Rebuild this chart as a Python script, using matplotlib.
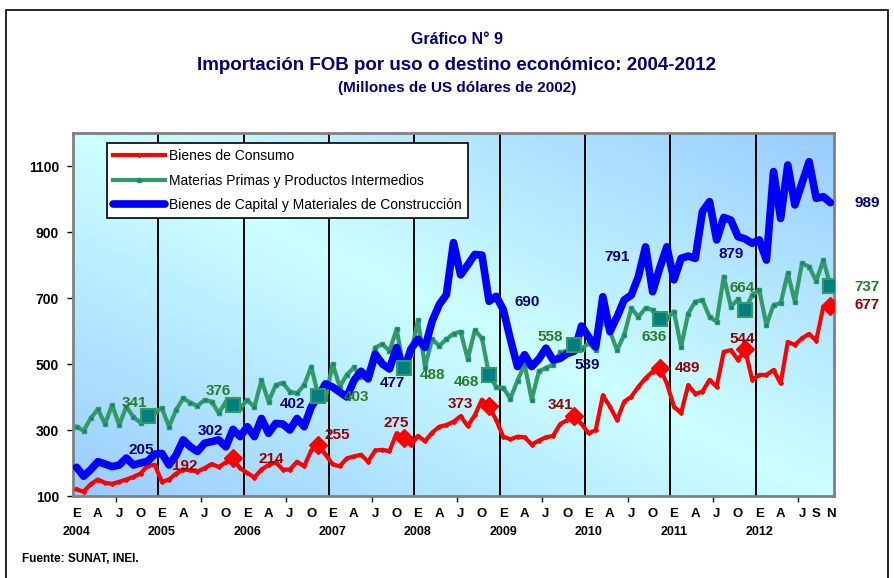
import numpy as np
import matplotlib.pyplot as plt
from matplotlib.lines import Line2D
from matplotlib.patches import Rectangle
from matplotlib.font_manager import FontProperties

NARROW = ['Liberation Sans Narrow', 'Liberation Sans', 'DejaVu Sans']
ARIAL = ['Liberation Sans', 'DejaVu Sans']

# Data: monthly values Jan 2004 - Nov 2012 (millones de US$ de 2002)
years = [2004, 2005, 2006, 2007, 2008, 2009, 2010, 2011, 2012]
month_initials = ['E', 'F', 'M', 'A', 'M', 'J', 'J', 'A', 'S', 'O', 'N', 'D']

consumo = [
    120, 113, 136, 150, 140, 137, 143, 150, 158, 168, 192, 194,   # 2004
    143, 150, 168, 180, 178, 174, 184, 197, 188, 202, 214, 184,   # 2005
    170, 156, 180, 194, 202, 180, 180, 204, 190, 238, 255, 226,   # 2006
    196, 190, 214, 220, 225, 204, 238, 240, 236, 290, 275, 255,   # 2007
    282, 266, 292, 310, 315, 325, 342, 312, 345, 392, 373, 330,   # 2008
    280, 272, 280, 278, 256, 268, 278, 282, 318, 330, 341, 318,   # 2009
    290, 300, 405, 371, 330, 386, 401, 431, 457, 477, 489, 441,   # 2010
    371, 351, 436, 410, 416, 452, 431, 537, 542, 512, 544, 452,   # 2011
    467, 467, 482, 441, 567, 558, 578, 591, 571, 674, 677,        # 2012
]

materias = [
    310, 298, 336, 363, 318, 376, 315, 371, 339, 322, 341, 355,
    366, 310, 361, 396, 383, 373, 391, 386, 351, 386, 376, 366,
    391, 369, 451, 386, 436, 443, 416, 411, 436, 492, 403, 395,
    500, 432, 467, 490, 460, 478, 550, 560, 540, 605, 488, 530,
    632, 492, 575, 555, 575, 592, 598, 515, 602, 578, 468, 430,
    428, 395, 450, 498, 392, 478, 488, 498, 535, 540, 558, 545,
    563, 542, 633, 598, 542, 588, 669, 643, 669, 664, 636, 638,
    659, 552, 653, 689, 694, 643, 628, 765, 674, 696, 664, 709,
    724, 618, 679, 684, 775, 689, 805, 795, 752, 815, 737,
]

capital = [
    187, 160, 180, 204, 197, 189, 194, 215, 194, 200, 205, 227,
    229, 194, 224, 270, 249, 235, 260, 265, 270, 249, 302, 280,
    310, 280, 335, 290, 320, 318, 300, 335, 310, 370, 402, 440,
    430, 415, 400, 450, 478, 455, 530, 500, 485, 550, 477, 545,
    575, 550, 630, 680, 710, 868, 770, 800, 832, 830, 690, 705,
    665, 575, 492, 528, 492, 515, 548, 512, 517, 532, 539, 615,
    582, 552, 704, 598, 643, 694, 709, 765, 855, 719, 791, 855,
    755, 820, 827, 820, 962, 992, 876, 944, 936, 886, 879, 866,
    876, 815, 1083, 941, 1103, 982, 1048, 1113, 1002, 1007, 989,
]

series_names = ['Bienes de Consumo',
                'Materias Primas y Productos Intermedios',
                'Bienes de Capital y Materiales de Construcción']

n = len(consumo)
x = np.arange(n)
nov_idx = [i for i in range(n) if i % 12 == 10]

fig = plt.figure(figsize=(8.94, 5.78), dpi=100)
ax = fig.add_axes([73 / 894, 1 - 496 / 578, 761 / 894, 363 / 578])

# gradient background (diagonal, light in the middle band)
gx, gy = np.meshgrid(np.linspace(0, 1, 300), np.linspace(0, 1, 300))
c = np.abs(gx + gy - 1)[..., None]
cyan = np.array([204, 255, 255]) / 255
blue = np.array([153, 204, 255]) / 255
ax.imshow(cyan * (1 - c) + blue * c, extent=(-0.5, n - 0.5, 100, 1200),
          origin='lower', aspect='auto', zorder=0)

# year separators
for k in range(1, len(years)):
    ax.axvline(12 * k - 0.5, color='black', lw=1.4, zorder=1)

ax.plot(x, consumo, color='#FF0000', lw=3, marker='D', ms=2, zorder=4)
ax.plot(x, materias, color='#339966', lw=3, marker='s', ms=2.5,
        mfc='#008080', mec='#339966', zorder=3)
ax.plot(x, capital, color='#0000FF', lw=5.5, solid_capstyle='round', zorder=5)

# highlighted november points
red_nov = [i for i in nov_idx if i >= 12]
ax.plot(red_nov, [consumo[i] for i in red_nov], ls='none', marker='D', ms=9,
        color='#FF0000', zorder=6)
ax.plot(nov_idx, [materias[i] for i in nov_idx], ls='none', marker='s', ms=10,
        mfc='#008080', mec='#339966', mew=1.5, zorder=6)

# value labels, offsets in pixels from each november point
off_consumo = [(37, 0), (38, -1), (19, 10), (-8, 15), (-29, 2), (-14, 11),
               (28, 0), (-3, 10), (37, 1)]
off_materias = [(-13, 13), (-15, 14), (38, -1), (29, -7), (-23, -7), (-24, 8),
                (-6, -18), (-3, 22), (37, -1)]
off_capital = [(-6, 11), (-23, -2), (-26, -8), (-11, -11), (38, -1), (13, -14),
               (-43, 11), (-14, -15), (37, 0)]

for vals, offs, col in [(consumo, off_consumo, '#990000'),
                        (materias, off_materias, '#267F26'),
                        (capital, off_capital, '#000080')]:
    for i, (dx, dy) in zip(nov_idx, offs):
        ax.annotate(str(vals[i]), (i, vals[i]), xytext=(dx, dy),
                    textcoords='offset pixels', ha='center', va='center',
                    fontsize=11, fontweight='bold', color=col,
                    family=ARIAL, zorder=7, annotation_clip=False)

ax.set_xlim(-0.5, n - 0.5)
ax.set_ylim(100, 1200)
ax.set_yticks(range(100, 1101, 200))
ax.set_yticklabels([str(v) for v in range(100, 1101, 200)],
                   fontsize=10, fontweight='bold', family=ARIAL)
ax.set_xticks([12 * k + 5.5 for k in range(len(years))])
ax.set_xticklabels([])
ax.tick_params(axis='both', direction='out', length=4, width=1, color='black')
ax.tick_params(axis='y', pad=6)
for s in ax.spines.values():
    s.set_color('#808080')
    s.set_linewidth(2)

# month letters and years under the axis
for i in range(n):
    m = i % 12
    last = i >= 12 * (len(years) - 1)
    if (m in (0, 3, 6, 9) and not last) or (last and m in (0, 3, 6, 8, 10)):
        ax.text(i, -0.049, month_initials[m], transform=ax.get_xaxis_transform(),
                ha='center', va='center', fontsize=9.5, fontweight='bold',
                family=NARROW)
for k, yr in enumerate(years):
    ax.text(12 * k, -0.099, str(yr), transform=ax.get_xaxis_transform(),
            ha='center', va='center', fontsize=9, fontweight='bold',
            family=NARROW)

handles = [
    Line2D([], [], color='#FF0000', lw=3, marker='D', ms=2),
    Line2D([], [], color='#339966', lw=3, marker='s', ms=2.5,
           mfc='#008080', mec='#339966'),
    Line2D([], [], color='#0000FF', lw=5.5, solid_capstyle='round'),
]
leg = ax.legend(handles, series_names, loc='upper left',
                bbox_to_anchor=(34 / 761, 353 / 363), borderaxespad=0,
                fancybox=False, framealpha=1, edgecolor='black',
                handlelength=3.7, handletextpad=0.3, labelspacing=0.75,
                borderpad=0.45,
                prop=FontProperties(family=NARROW, size=10))
leg.get_frame().set_linewidth(1.2)
leg.set_zorder(10)

# titles
fig.text(457 / 894, 1 - 40 / 578, 'Gráfico N° 9', ha='center', va='center',
         fontsize=11.5, fontweight='bold', color='#000080', family=NARROW)
fig.text(457 / 894, 1 - 65 / 578,
         'Importación FOB por uso o destino económico: 2004-2012',
         ha='center', va='center', fontsize=13.5, fontweight='bold',
         color='#000080', family=NARROW)
fig.text(457 / 894, 1 - 88 / 578, '(Millones de US dólares de 2002)',
         ha='center', va='center', fontsize=11, fontweight='bold',
         color='#000080', family=NARROW)
fig.text(22 / 894, 1 - 559 / 578, 'Fuente: SUNAT, INEI.', ha='left',
         va='center', fontsize=8.5, fontweight='bold', family=NARROW)

# outer frame
fig.patches.append(Rectangle((6 / 894, -0.05), 882 / 894, 1.05 - 10 / 578,
                             transform=fig.transFigure, fill=False,
                             edgecolor='black', lw=1.2))

fig.savefig('out.png', dpi=100)
